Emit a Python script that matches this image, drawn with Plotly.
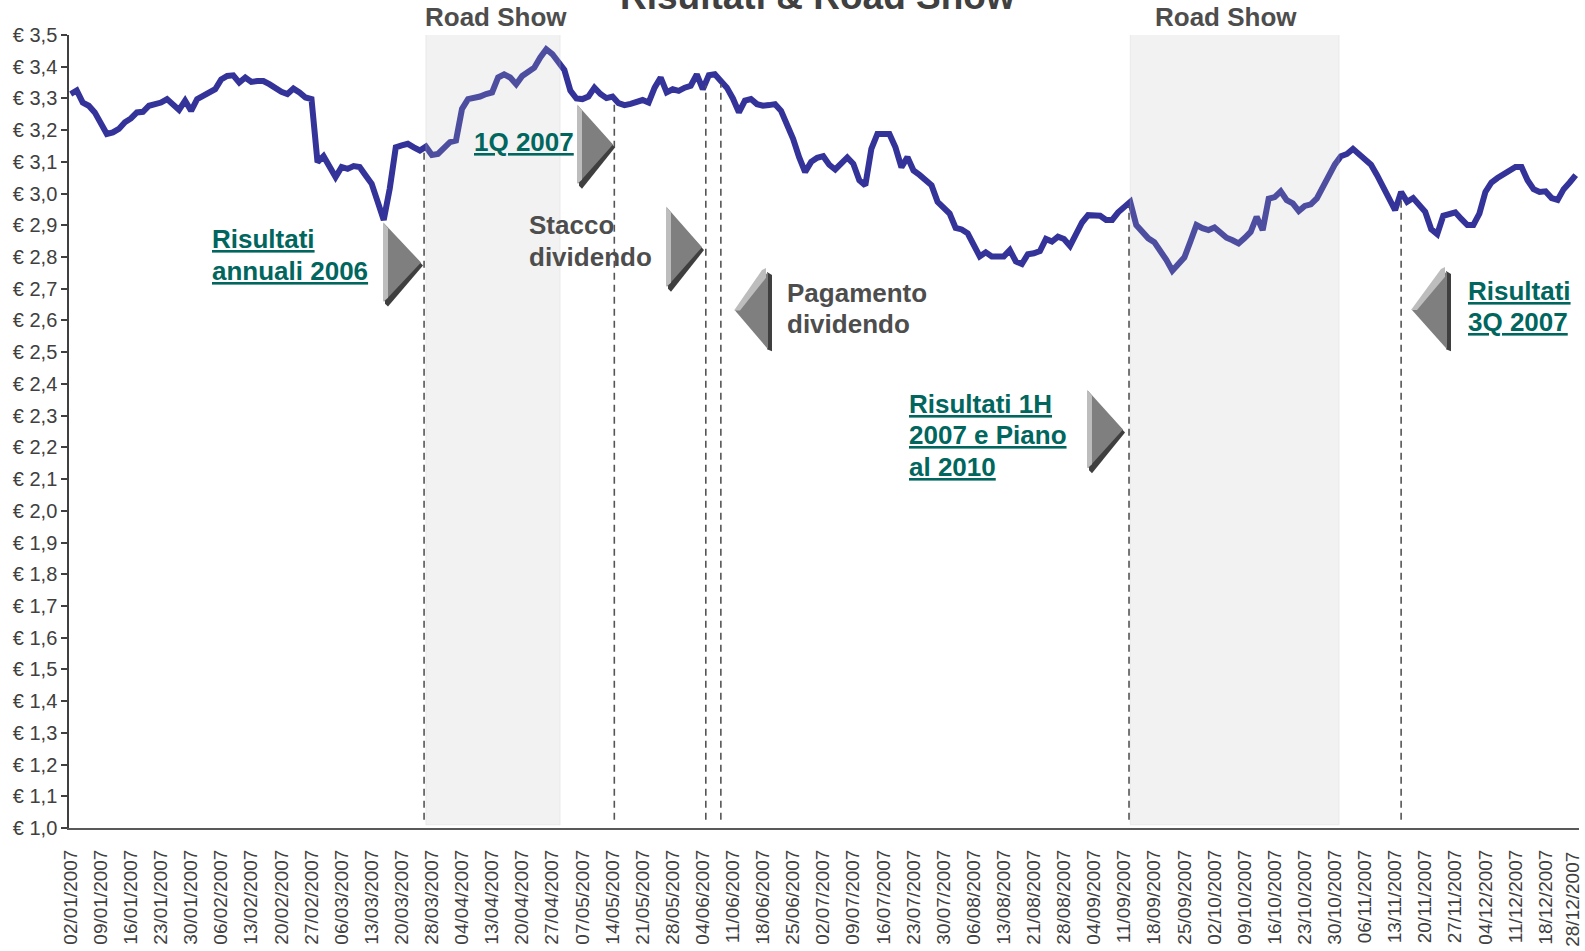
import numpy as np
import plotly.graph_objects as go

# Chiusure giornaliere 2007 (una per seduta)
prezzo = [
    3.314, 3.325, 3.287, 3.277, 3.256, 3.220, 3.188, 3.193, 3.204, 3.225,
    3.237, 3.256, 3.258, 3.277, 3.282, 3.287, 3.298, 3.282, 3.264, 3.293,
    3.261, 3.298, 3.308, 3.319, 3.329, 3.360, 3.371, 3.373, 3.350, 3.366,
    3.352, 3.355, 3.355, 3.345, 3.331, 3.321, 3.314, 3.331, 3.319, 3.303,
    3.298, 3.099, 3.118, 3.084, 3.052, 3.084, 3.078, 3.087, 3.084, 3.057,
    3.031, 2.974, 2.917, 3.016, 3.146, 3.152, 3.157, 3.146, 3.136, 3.148,
    3.122, 3.125, 3.141, 3.162, 3.167, 3.267, 3.298, 3.300, 3.306, 3.314,
    3.319, 3.366, 3.376, 3.366, 3.345, 3.371, 3.387, 3.397, 3.429, 3.455,
    3.440, 3.413, 3.390, 3.325, 3.300, 3.298, 3.306, 3.334, 3.314, 3.301,
    3.306, 3.285, 3.279, 3.283, 3.291, 3.295, 3.287, 3.334, 3.366, 3.319,
    3.329, 3.324, 3.334, 3.340, 3.376, 3.329, 3.373, 3.376, 3.355, 3.334,
    3.300, 3.256, 3.293, 3.298, 3.282, 3.277, 3.279, 3.282, 3.261, 3.220,
    3.173, 3.115, 3.068, 3.100, 3.113, 3.118, 3.091, 3.076, 3.097, 3.114,
    3.094, 3.042, 3.026, 3.141, 3.188, 3.190, 3.188, 3.146, 3.083, 3.115,
    3.073, 3.059, 3.045, 3.026, 2.974, 2.958, 2.937, 2.892, 2.887, 2.875,
    2.838, 2.802, 2.815, 2.802, 2.802, 2.802, 2.822, 2.786, 2.778, 2.809,
    2.812, 2.819, 2.857, 2.849, 2.864, 2.857, 2.835, 2.870, 2.909, 2.932,
    2.932, 2.930, 2.917, 2.917, 2.941, 2.958, 2.974, 2.901, 2.880, 2.859,
    2.847, 2.822, 2.791, 2.757, 2.781, 2.799, 2.849, 2.901, 2.891, 2.885,
    2.893, 2.875, 2.861, 2.853, 2.843, 2.860, 2.879, 2.927, 2.885, 2.984,
    2.989, 3.007, 2.979, 2.969, 2.945, 2.961, 2.966, 2.985, 3.024, 3.060,
    3.092, 3.118, 3.125, 3.141, 3.125, 3.107, 3.091, 3.058, 3.021, 2.984,
    2.948, 3.005, 2.974, 2.986, 2.963, 2.943, 2.888, 2.872, 2.930, 2.937,
    2.941, 2.920, 2.901, 2.901, 2.937, 3.005, 3.035, 3.049, 3.060, 3.071,
    3.084, 3.084, 3.042, 3.014, 3.005, 3.007, 2.986, 2.980, 3.014, 3.035,
    3.058,
]

# Etichette settimanali (una ogni 5 sedute)
settimane = [
    "02/01/2007", "09/01/2007", "16/01/2007", "23/01/2007", "30/01/2007",
    "06/02/2007", "13/02/2007", "20/02/2007", "27/02/2007", "06/03/2007",
    "13/03/2007", "20/03/2007", "28/03/2007", "04/04/2007", "13/04/2007",
    "20/04/2007", "27/04/2007", "07/05/2007", "14/05/2007", "21/05/2007",
    "28/05/2007", "04/06/2007", "11/06/2007", "18/06/2007", "25/06/2007",
    "02/07/2007", "09/07/2007", "16/07/2007", "23/07/2007", "30/07/2007",
    "06/08/2007", "13/08/2007", "21/08/2007", "28/08/2007", "04/09/2007",
    "11/09/2007", "18/09/2007", "25/09/2007", "02/10/2007", "09/10/2007",
    "16/10/2007", "23/10/2007", "30/10/2007", "06/11/2007", "13/11/2007",
    "20/11/2007", "27/11/2007", "04/12/2007", "11/12/2007", "18/12/2007",
    "28/12/2007",
]

# Eventi societari (posizione in sedute) e periodi di Road Show
eventi = [58.7, 90.3, 105.5, 108.0, 175.8, 221.0]
road_show = [(59.0, 81.3), (176.0, 210.7)]

valori_y = [round(1.0 + 0.1 * k, 1) for k in range(26)]
etichette_y = ["€ " + f"{v:.1f}".replace(".", ",") for v in valori_y]

sedute = np.arange(len(prezzo))

FONT = "Liberation Sans, Arial, sans-serif"
VERDE = "#00665E"
GRIGIO_TXT = "#4D4D4D"
GRIGIO_ASSI = "#404040"

W, H = 1585, 951
ML, MR, MT, MB = 69, 6, 35, 116
PW, PH = W - ML - MR, H - MT - MB
PASSO = 6.02     # pixel per seduta
X_PRIMA = 70.7   # pixel della prima seduta


def px(x):
    return (x - ML) / PW


def py(y):
    return (H - MB - y) / PH


fig = go.Figure()

fig.add_trace(go.Scatter(
    x=sedute, y=prezzo, mode="lines",
    line=dict(color="#333399", width=6),
    hoverinfo="skip", showlegend=False,
))

shapes = []
for a, b in road_show:
    shapes.append(dict(
        type="rect", xref="x", yref="y", x0=a, x1=b, y0=1.01, y1=3.506,
        fillcolor="rgba(190,190,190,0.2)",
        line=dict(color="rgba(200,200,200,0.25)", width=1), layer="above",
    ))

for e in eventi:
    cima = float(np.interp(e, sedute, prezzo))
    shapes.append(dict(
        type="line", xref="x", yref="y", x0=e, x1=e, y0=1.026, y1=cima - 0.01,
        line=dict(color="#555555", width=1.6, dash="7px,5px"), layer="above",
    ))


def path(points):
    return "M " + " L ".join(f"{px(x):.5f},{py(y):.5f}" for x, y in points) + " Z"


def poly(points, color):
    return dict(type="path", xref="paper", yref="paper", path=path(points),
                fillcolor=color, line=dict(width=0), layer="above")


def freccia_destra(xl, xt, yt, yb):
    ym = (yt + yb) / 2
    return [
        poly([(xl + 2, yt + 4), (xt + 2, ym + 3), (xl + 4, yb + 5), (xl + 1, yb + 2)], "#3F3F3F"),
        poly([(xl, yt), (xt, ym), (xl, yb)], "#7F7F7F"),
        poly([(xl - 1, yt - 1), (xl + 4, yt + 5), (xl + 4, yb - 4), (xl - 1, yb)], "#BDBDBD"),
    ]


def freccia_sinistra(xr, xt, yt, yb):
    ym = (yt + yb) / 2
    return [
        poly([(xr - 1, yt), (xr + 4, yt + 3), (xr + 4, yb + 2), (xr - 1, yb)], "#3F3F3F"),
        poly([(xr, yt), (xt, ym), (xr, yb)], "#7F7F7F"),
        poly([(xt - 1, ym), (xr - 6, yt - 2), (xr - 2, yt - 4), (xr - 2, yt + 6), (xt + 5, ym)], "#BDBDBD"),
    ]


shapes += freccia_destra(384, 421, 225, 304)
shapes += freccia_destra(578, 613, 106, 185)
shapes += freccia_destra(667, 702, 209, 289)
shapes += freccia_sinistra(768, 735, 274, 352)
shapes += freccia_destra(1088, 1123, 394, 472)
shapes += freccia_sinistra(1447, 1412, 273, 352)

annotations = []


def testo(x, y, s, colore, size=26, sottolineato=False, anchor="left"):
    t = f"<b>{s}</b>"
    if sottolineato:
        t = f"<u>{t}</u>"
    annotations.append(dict(
        xref="paper", yref="paper", x=px(x), y=py(y), text=t, showarrow=False,
        xanchor=anchor, yanchor="middle",
        font=dict(family=FONT, size=size, color=colore),
    ))


testo(817, -4, "Risultati &amp; Road Show", "#404040", size=37, anchor="center")
testo(496, 17, "Road Show", GRIGIO_TXT, anchor="center")
testo(1226, 17, "Road Show", GRIGIO_TXT, anchor="center")

testo(210, 241, "Risultati", VERDE, sottolineato=True)
testo(210, 273, "annuali 2006", VERDE, sottolineato=True)
testo(472, 143, "1Q 2007", VERDE, sottolineato=True)
testo(527, 227, "Stacco", GRIGIO_TXT)
testo(527, 259, "dividendo", GRIGIO_TXT)
testo(785, 295, "Pagamento", GRIGIO_TXT)
testo(785, 327, "dividendo", GRIGIO_TXT)
testo(907, 407, "Risultati 1H", VERDE, sottolineato=True)
testo(907, 439, "2007 e Piano", VERDE, sottolineato=True)
testo(907, 471, "al 2010", VERDE, sottolineato=True)
testo(1466, 293, "Risultati", VERDE, sottolineato=True)
testo(1466, 325, "3Q 2007", VERDE, sottolineato=True)

# L'ultima data cade sul bordo destro: la si scrive a parte, accostata al bordo
etichette_x = settimane[:-1] + [""]
annotations.append(dict(
    xref="paper", yref="paper", x=px(1584), y=py(858),
    xanchor="right", yanchor="top", textangle=-90,
    text=settimane[-1], showarrow=False, borderpad=0,
    font=dict(family=FONT, size=19, color=GRIGIO_ASSI),
))

x0 = -(X_PRIMA - ML) / PASSO
fig.update_layout(
    width=W, height=H,
    margin=dict(l=ML, r=MR, t=MT, b=MB, pad=0),
    paper_bgcolor="white", plot_bgcolor="white",
    showlegend=False,
    shapes=shapes, annotations=annotations,
    xaxis=dict(
        range=[x0, x0 + PW / PASSO],
        tickmode="array", tickvals=sedute[::5], ticktext=etichette_x,
        tickangle=-90, showgrid=False, zeroline=False,
        showline=True, linecolor="#595959", linewidth=2,
        ticks="", ticklabelstandoff=12,
        tickfont=dict(family=FONT, size=19, color=GRIGIO_ASSI),
    ),
    yaxis=dict(
        range=[1.0, 3.5],
        tickmode="array", tickvals=valori_y, ticktext=etichette_y,
        showgrid=False, zeroline=False,
        showline=True, linecolor=GRIGIO_ASSI, linewidth=1.5,
        ticks="outside", ticklen=6, tickcolor=GRIGIO_ASSI, tickwidth=1.5,
        tickfont=dict(family=FONT, size=20, color=GRIGIO_ASSI),
    ),
)

fig.write_html("out.html")
